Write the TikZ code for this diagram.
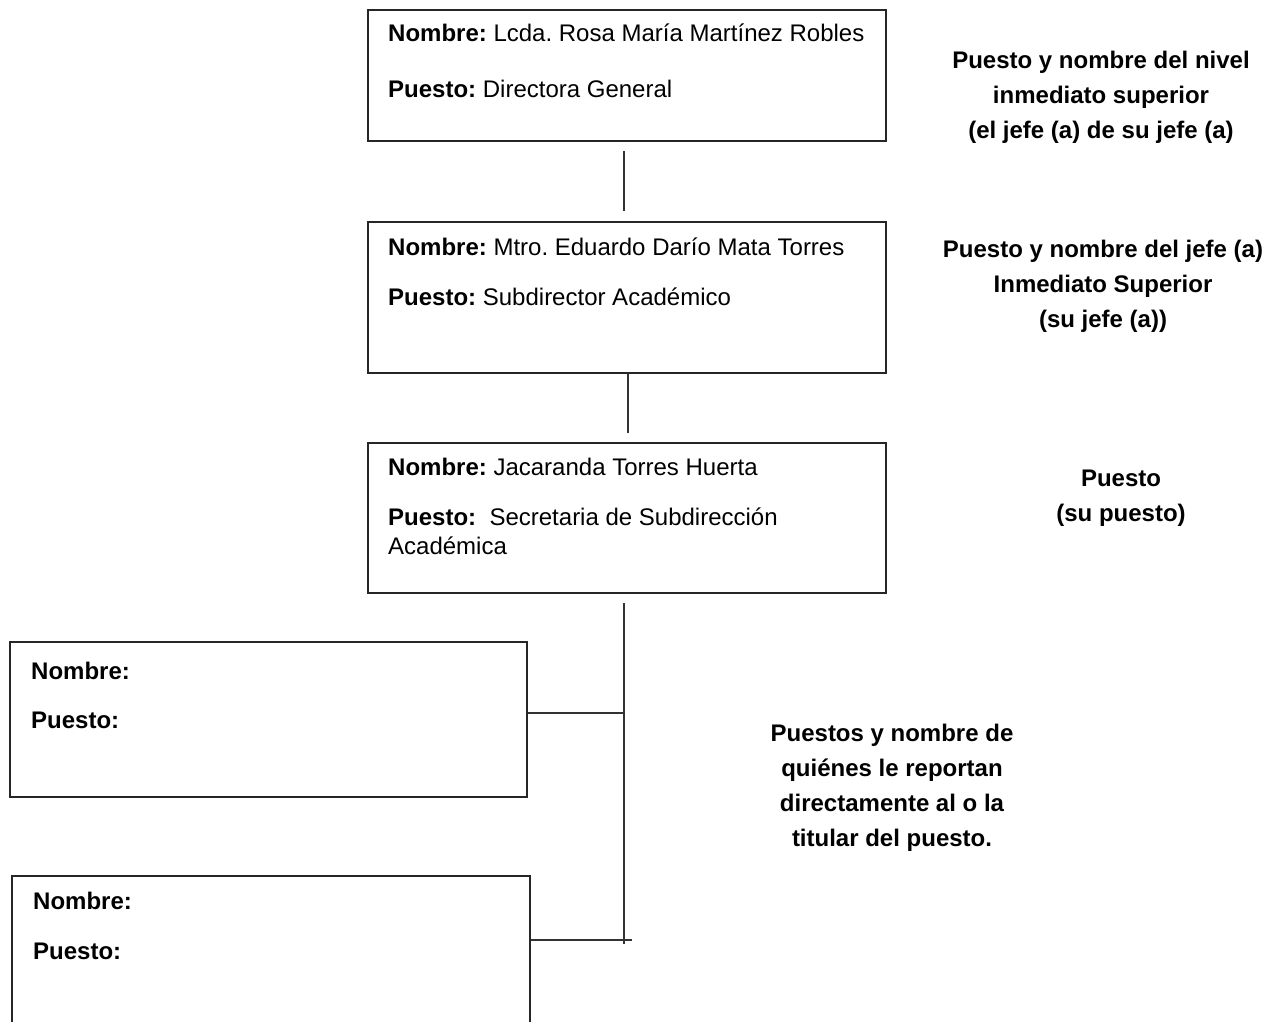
\documentclass[tikz,border=0pt]{standalone}
\usepackage{fontspec}
\setmainfont{Liberation Sans}
\frenchspacing
\begin{document}
\begin{tikzpicture}[x=1pt,y=-1pt,
  box/.style={draw=black!85, line width=1.3pt, inner sep=0pt, minimum width=518pt},
  conn/.style={draw=black!80, line width=1.3pt},
  ltxt/.style={anchor=base west, inner sep=0pt, font=\fontsize{24}{28}\selectfont},
  rtxt/.style={anchor=north, inner sep=0pt, align=center, font=\fontsize{24}{35}\selectfont\bfseries}]
\useasboundingbox (0,0) rectangle (1281,1021);
\clip (0,0) rectangle (1281,1021);
% boxes
\node[box, minimum height=131pt] (b1) at (627,75.5) {};
\node[box, minimum height=151pt] (b2) at (627,297.5) {};
\node[box, minimum height=150pt] (b3) at (627,518) {};
\node[box, minimum width=517pt, minimum height=155pt] (b4) at (268.5,719.5) {};
\node[box, minimum height=154pt] (b5) at (271,953) {};
% box texts
\node[ltxt] (t1a) at (388,41) {\textbf{Nombre:} Lcda. Rosa María Martínez Robles};
\node[ltxt] (t1b) at (388,97) {\textbf{Puesto:} Directora General};
\node[ltxt] (t2a) at (388,255) {\textbf{Nombre:} Mtro. Eduardo Darío Mata Torres};
\node[ltxt] (t2b) at (388,305) {\textbf{Puesto:} Subdirector Académico};
\node[ltxt] (t3a) at (388,475) {\textbf{Nombre:} Jacaranda Torres Huerta};
\node[ltxt] (t3b) at (388,525) {\textbf{Puesto:}\ \ Secretaria de Subdirección};
\node[ltxt] (t3c) at (388,554) {Académica};
\node[ltxt] (t4a) at (31,679) {\textbf{Nombre:}};
\node[ltxt] (t4b) at (31,728) {\textbf{Puesto:}};
\node[ltxt] (t5a) at (33,909) {\textbf{Nombre:}};
\node[ltxt] (t5b) at (33,959) {\textbf{Puesto:}};
% right texts
\node[rtxt] (r1) at (1101,51) {Puesto y nombre del nivel\\inmediato superior\\(el jefe (a) de su jefe (a)};
\node[rtxt] (r2) at (1103,240) {Puesto y nombre del jefe (a)\\Inmediato Superior\\(su jefe (a))};
\node[rtxt] (r3) at (1121,470) {Puesto\\(su puesto)};
\node[rtxt] (r4) at (892,724) {Puestos y nombre de\\quiénes le reportan\\directamente al o la\\titular del puesto.};
% connectors
\coordinate (c1a) at (624,151);
\coordinate (c1b) at (624,211);
\coordinate (c2b) at (628,433);
\coordinate (c3a) at (624,603);
\coordinate (c3b) at (624,944);
\coordinate (c4) at (624,713);
\coordinate (c5) at (632,940);
\draw[conn] (c1a) -- (c1b);
\draw[conn] (b2.south -| c2b) -- (c2b);
\draw[conn] (c3a) -- (c3b);
\draw[conn] (b4.east |- c4) -- (c4);
\draw[conn] (b5.east |- c5) -- (c5);
\end{tikzpicture}
\end{document}
